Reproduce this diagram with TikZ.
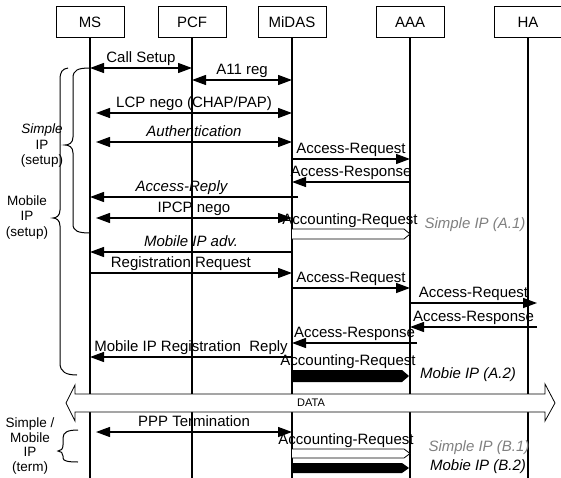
\documentclass[tikz,border=0pt]{standalone}
\usepackage{fontspec}
\setmainfont{Liberation Sans}
\usetikzlibrary{arrows.meta}

\tikzset{
    actor/.style={draw, line width=0.8pt, minimum width=68pt, minimum height=31pt, inner sep=0pt, font=\fontsize{15}{18}\selectfont},
    life/.style={line width=1.4pt},
    msg/.style={line width=1.3pt, -{Triangle[length=14pt,width=10pt]}},
    bmsg/.style={msg, {Triangle[length=14pt,width=10pt]}-{Triangle[length=14pt,width=10pt]}},
    lbl/.style={above, inner sep=1pt, text height=11pt, text depth=3.5pt, font=\fontsize{15}{18}\selectfont},
    side/.style={align=center, font=\fontsize{13.5}{15.5}\selectfont},
    curly/.style={line width=1pt},
    hollow/.style={line width=0.8pt, fill=white},
    note/.style={font=\fontsize{15}{18}\selectfont\itshape},
}

\begin{document}
\begin{tikzpicture}[x=1pt, y=-1pt]
    \useasboundingbox (0,0) rectangle (561,478);

    \node[actor] (ms)    at (90,22)  {MS};
    \node[actor] (pcf)   at (192,22) {PCF};
    \node[actor] (midas) at (292,22) {MiDAS};
    \node[actor] (aaa)   at (410,22) {AAA};
    \node[actor] (ha)    at (528,22) {HA};

    \foreach \n in {ms, pcf, midas, aaa, ha}
        \draw[life] (\n.south) -- (\n |- 0,478);

    \draw[bmsg] (ms |- 0,68) -- node[lbl] {Call Setup} (pcf |- 0,68);
    \draw[bmsg] (pcf |- 0,80) -- node[lbl] {A11 reg} (midas |- 0,80);
    \draw[bmsg] ([xshift=6pt]ms |- 0,113) -- node[lbl] {LCP nego (CHAP/PAP)} (midas |- 0,113);
    \draw[bmsg] ([xshift=6pt]ms |- 0,142) -- node[lbl] {\itshape Authentication} (midas |- 0,142);
    \draw[msg] (midas |- 0,159) -- node[lbl] {Access-Request} (aaa |- 0,159);
    \draw[msg] (aaa |- 0,182) -- node[lbl] {Access-Response} (midas |- 0,182);
    \draw[msg] ([xshift=6pt]midas |- 0,197) -- node[lbl, pos=0.56] {\itshape Access-Reply} (ms |- 0,197);
    \draw[bmsg] ([xshift=6pt]ms |- 0,218) -- node[lbl] {IPCP nego} (midas |- 0,218);

    \node[lbl] (acca1) at (350,229) {Accounting-Request};
    \draw[hollow] (292,229) -- (404,229) -- (410,234) -- (404,239) -- (292,239);
    \node[note, gray] (simplea) at (475,225) {Simple IP (A.1)};

    \draw[msg] (midas |- 0,252) -- node[lbl] {\itshape Mobile IP adv.} (ms |- 0,252);
    \draw[msg] (ms |- 0,273) -- node[lbl, pos=0.45] {Registration Request} (midas |- 0,273);
    \draw[msg] (midas |- 0,288) -- node[lbl] {Access-Request} (aaa |- 0,288);
    \draw[msg] (aaa |- 0,303) -- node[lbl] {Access-Request} ([xshift=9pt]ha |- 0,303);
    \draw[msg] ([xshift=9pt]ha |- 0,327) -- node[lbl] {Access-Response} (aaa |- 0,327);
    \draw[msg] ([xshift=7pt]aaa |- 0,343) -- node[lbl] {Access-Response} (midas |- 0,343);
    \draw[msg] (midas |- 0,357) -- node[lbl] {Mobile IP Registration\ \ Reply} (ms |- 0,357);

    \node[lbl] (acca2) at (348,370) {Accounting-Request};
    \fill (292,370) -- (402,370) -- (409,376) -- (402,382) -- (292,382) -- cycle;
    \node[note] (mobilea) at (468,375) {Mobie IP (A.2)};

    \draw[hollow] (66,403) -- (75,385) -- (75,394) -- (545,394) -- (545,384)
        -- (555,403) -- (545,421) -- (545,412) -- (75,412) -- (75,421) -- cycle;
    \node[font=\fontsize{11}{13}\selectfont] (data) at (311,403) {DATA};

    \draw[bmsg] ([xshift=6pt]ms |- 0,432) -- node[lbl] {PPP Termination} (midas |- 0,432);

    \node[lbl] (accb1) at (346,449) {Accounting-Request};
    \draw[hollow] (292,449) -- (404,449) -- (410,453.5) -- (404,458) -- (292,458);
    \node[note, gray] (simpleb) at (479,448) {Simple IP (B.1)};
    \fill (292,463) -- (402,463) -- (409,468) -- (402,473) -- (292,473) -- cycle;
    \node[note] (mobileb) at (478,467) {Mobie IP (B.2)};

    \draw[curly] (90,68) .. controls (78,68) and (73,70) .. (73,78) -- (73,137)
        .. controls (73,143) and (69,145) .. (65,145) .. controls (69,145) and (73,147) .. (73,153)
        -- (73,224) .. controls (73,231) and (78,233) .. (90,233);
    \draw[curly] (68,68) .. controls (62,69) and (60,72) .. (60,80) -- (60,210)
        .. controls (60,216) and (56,218) .. (53,218) .. controls (56,218) and (60,220) .. (60,226)
        -- (60,363) .. controls (60,372) and (66,375) .. (77,375);
    \draw[curly] (78,430) .. controls (68,430) and (63,432) .. (63,438) -- (63,445)
        .. controls (63,449) and (61,451) .. (58,451) .. controls (61,451) and (63,453) .. (63,456)
        -- (63,458) .. controls (63,461) and (68,462) .. (78,462);

    \node[side] (simplelbl) at (42,146)   {\itshape Simple\\IP\\(setup)};
    \node[side] (mobilelbl) at (27,217.5) {Mobile\\IP\\(setup)};
    \node[side, font=\fontsize{13.5}{14.5}\selectfont] (termlbl) at (30,446) {Simple /\\Mobile\\IP\\(term)};
\end{tikzpicture}
\end{document}
